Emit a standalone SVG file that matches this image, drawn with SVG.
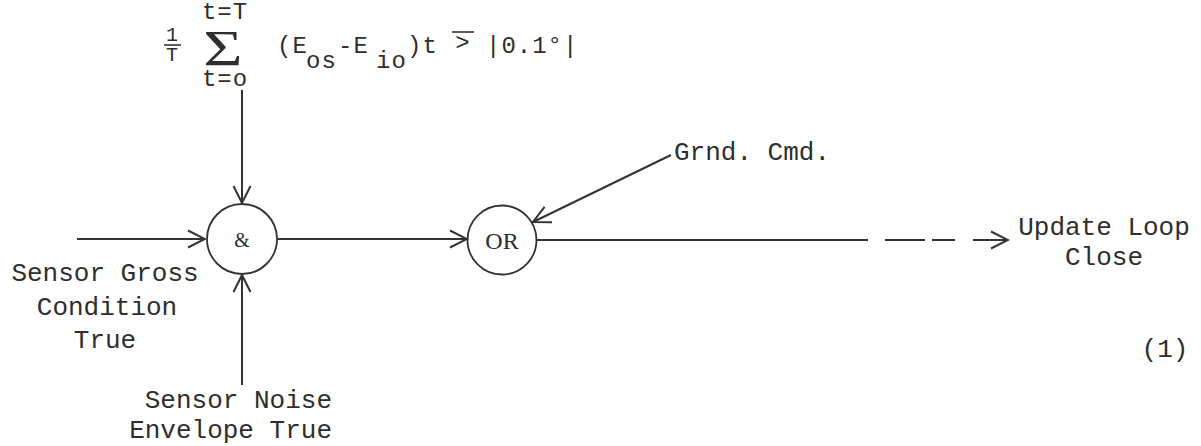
<svg xmlns="http://www.w3.org/2000/svg" width="1201" height="446" viewBox="0 0 1201 446">
<style>
  .lbl { font-family: "Liberation Mono", "Courier New", monospace; font-size: 26px; fill: #2e2e2e; }
  .fm { font-family: "Liberation Mono", "Courier New", monospace; font-size: 24px; fill: #2e2e2e; letter-spacing: 1px; }
  .sm { font-family: "Liberation Mono", "Courier New", monospace; font-size: 20px; fill: #2e2e2e; }
  .gate { fill: #fff; stroke: #333; stroke-width: 1.8; }
  .gt { font-family: "Liberation Serif", "Times New Roman", serif; fill: #2e2e2e; text-anchor: middle; }
  .conn { fill: none; stroke: #333; stroke-width: 2; }
  .ln { stroke: #333; stroke-width: 1.6; fill: none; }
</style>
<defs>
  <marker id="arr" markerUnits="userSpaceOnUse" markerWidth="20" markerHeight="20" viewBox="0 0 20 20" refX="18" refY="10" orient="auto">
    <path d="M1,1.5 L18,10 L1,18.5" fill="none" stroke="#333" stroke-width="2"/>
  </marker>
</defs>
<rect width="1201" height="446" fill="#fff"/>

<g id="formula">
  <text class="sm" x="172" y="41" text-anchor="middle">1</text>
  <line class="ln" x1="164" y1="45" x2="181" y2="45"/>
  <text class="sm" x="172" y="61" text-anchor="middle">T</text>
  <text class="fm" x="225" y="19" text-anchor="middle" letter-spacing="0">t=T</text>
  <text transform="translate(223,65) scale(1.35,1)" text-anchor="middle" font-family="Liberation Serif, serif" font-size="50" fill="#2e2e2e">Σ</text>
  <text class="fm" x="225" y="86" text-anchor="middle" letter-spacing="0">t=o</text>
  <text class="fm" x="277" y="53">(E</text>
  <text class="fm" x="306" y="68">os</text>
  <text class="fm" x="338" y="53">-E</text>
  <text class="fm" x="376" y="68">io</text>
  <text class="fm" x="407" y="53">)t</text>
  <line class="ln" x1="452" y1="32" x2="474" y2="32"/>
  <text class="fm" x="463" y="50" text-anchor="middle" letter-spacing="0">&gt;</text>
  <text class="fm" x="486" y="53" letter-spacing="2">|0.1°|</text>
</g>

<g id="and-gate">
  <circle class="gate" cx="242" cy="239" r="35"/>
  <text class="gt" x="242" y="247" font-size="20">&amp;</text>
</g>

<g id="or-gate">
  <circle class="gate" cx="502" cy="240" r="34.5"/>
  <text class="gt" x="502" y="249" font-size="24">OR</text>
</g>

<g id="label-gross">
  <text class="lbl" x="105" y="281" text-anchor="middle">Sensor Gross</text>
  <text class="lbl" x="107" y="315" text-anchor="middle">Condition</text>
  <text class="lbl" x="105" y="348" text-anchor="middle">True</text>
</g>

<g id="label-noise">
  <text class="lbl" x="332" y="408" text-anchor="end">Sensor Noise</text>
  <text class="lbl" x="332" y="438" text-anchor="end">Envelope True</text>
</g>

<g id="label-grnd">
  <text class="lbl" x="674" y="160">Grnd. Cmd.</text>
</g>

<g id="label-out">
  <text class="lbl" x="1104" y="235" text-anchor="middle">Update Loop</text>
  <text class="lbl" x="1104" y="265" text-anchor="middle">Close</text>
</g>

<g id="eq-number">
  <text class="lbl" x="1165" y="357" text-anchor="middle">(1)</text>
</g>

<g id="connectors">
  <path class="conn" d="M77,239 H205" marker-end="url(#arr)"/>
  <path class="conn" d="M242,90 V203" marker-end="url(#arr)"/>
  <path class="conn" d="M242,385 V275" marker-end="url(#arr)"/>
  <path class="conn" d="M277,239 H467" marker-end="url(#arr)"/>
  <path class="conn" d="M671,155 L533,222" marker-end="url(#arr)"/>
  <path class="conn" d="M537,240 H868 M885,240 H925 M932,240 H955 M973,240 H1008" marker-end="url(#arr)"/>
</g>
</svg>
